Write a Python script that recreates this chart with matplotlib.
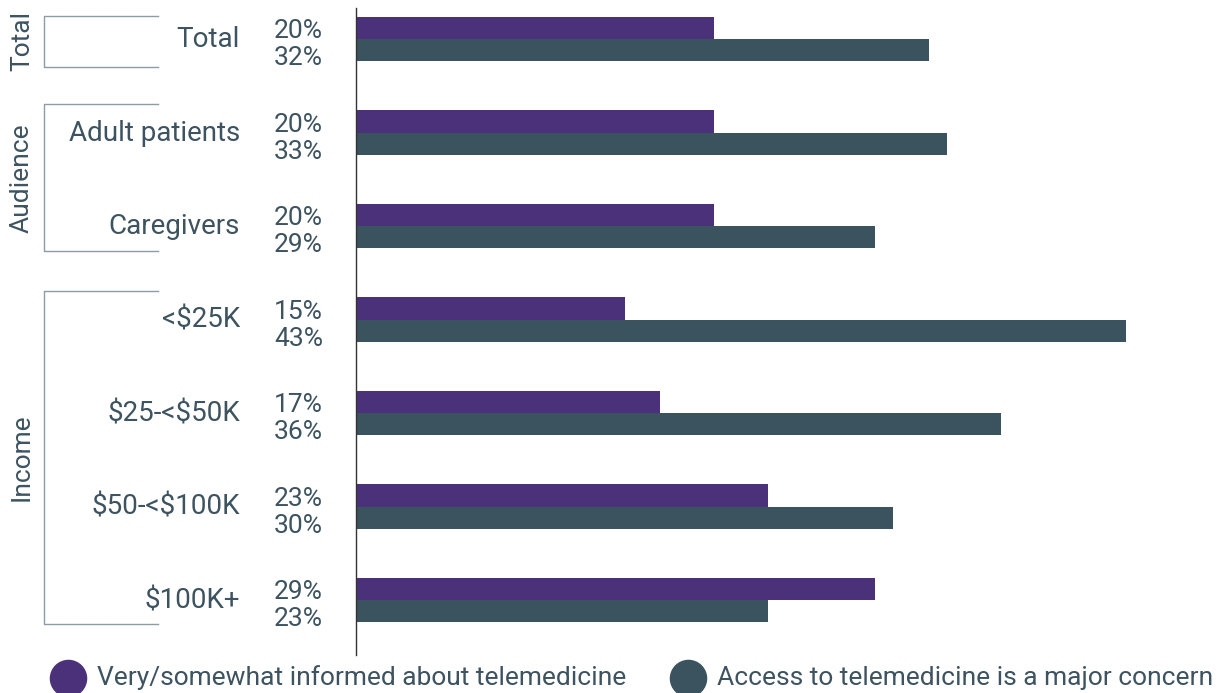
import matplotlib

matplotlib.use("Agg")

import matplotlib.pyplot as plt
from matplotlib.transforms import blended_transform_factory

categories = ["Total", "Adult patients", "Caregivers", "<$25K", "$25-<$50K", "$50-<$100K", "$100K+"]
informed = [20, 20, 20, 15, 17, 23, 29]
concern = [32, 33, 29, 43, 36, 30, 23]
series_names = ["Very/somewhat informed about telemedicine", "Access to telemedicine is a major concern"]
groups = ["Total", "Audience", "Income"]
group_rows = [(0, 0), (1, 2), (3, 6)]

PURPLE = "#4b3179"
TEAL = "#3b535e"
TEXT = "#3d5360"
BRACKET = "#8e9ca6"
FONT = "Roboto"

plt.rcParams["text.parse_math"] = False

W, H = 1225, 693
fig = plt.figure(figsize=(W / 100, H / 100), dpi=100)
ax = fig.add_axes([356 / W, 1 - 655 / H, (1200 - 356) / W, (655 - 8) / H])

y = list(range(len(categories)))
bh = 0.24
ax.barh([v - bh / 2 for v in y], informed, height=bh, color=PURPLE)
ax.barh([v + bh / 2 for v in y], concern, height=bh, color=TEAL)
ax.set_xlim(0, (1200 - 356) / ((1126 - 356) / 43))
ax.set_ylim(6.588, -0.332)

for s in ["top", "right", "bottom"]:
    ax.spines[s].set_visible(False)
ax.spines["left"].set_color("#333333")
ax.spines["left"].set_linewidth(1.0)
ax.set_xticks([])
ax.set_yticks([])

tr = blended_transform_factory(fig.transFigure, ax.transData)
fs = 19
for i, cat in enumerate(categories):
    ax.text(240 / W, i + 0.01, cat, transform=tr, ha="right", va="center",
            fontsize=20, color=TEXT, family=FONT)
    ax.text(323 / W, i - 0.085, f"{informed[i]}%", transform=tr, ha="right", va="center",
            fontsize=fs, color=TEXT, family=FONT)
    ax.text(323 / W, i + 0.205, f"{concern[i]}%", transform=tr, ha="right", va="center",
            fontsize=fs, color=TEXT, family=FONT)

# bracket lines for the grouping on the left
pads = [(-0.25, 0.30), (-0.30, 0.27), (-0.31, 0.255)]
for name, (a, b), (pt, pb) in zip(groups, group_rows, pads):
    top, bot = a + pt, b + pb
    x0, x1 = 44 / W, 158 / W
    ax.plot([x1, x0, x0, x1], [top, top, bot, bot], transform=tr, color=BRACKET,
            linewidth=1.0, clip_on=False)
    ax.text(22 / W, (top + bot) / 2, name, transform=tr, rotation=90, ha="center",
            va="center", fontsize=fs, color=TEXT, family=FONT)

# legend along the bottom
ly = 1 - 678 / H
for name, color, cx, tx in zip(series_names, [PURPLE, TEAL], [68, 688], [97, 717]):
    fig.lines.append(plt.Line2D([cx / W], [ly], marker="o", markersize=26, color=color,
                                transform=fig.transFigure))
    fig.text(tx / W, ly, name, ha="left", va="center", fontsize=fs, color=TEXT, family=FONT)

fig.savefig("out.png", dpi=100)
